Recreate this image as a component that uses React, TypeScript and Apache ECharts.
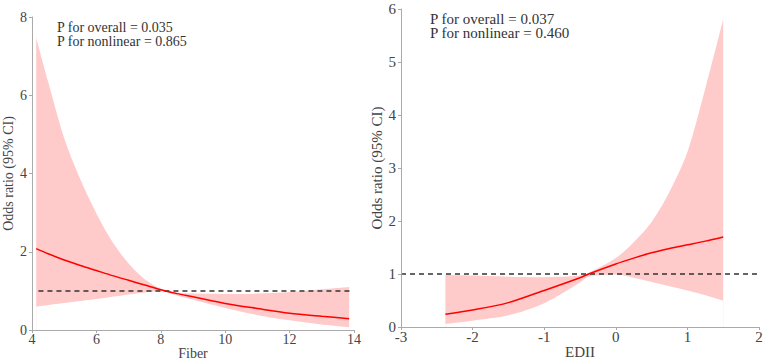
import React, { useEffect, useRef } from "react";
import * as echarts from "echarts";

// Fiber panel
const fiberX = [4.13, 4.5, 5, 5.5, 6, 6.5, 7, 7.5, 8, 8.5, 9, 10, 11, 12, 13, 13.85];
const fiberOR = [2.08, 1.95, 1.79, 1.65, 1.52, 1.39, 1.27, 1.15, 1.03, 0.93, 0.85, 0.68, 0.55, 0.43, 0.35, 0.29];
const fiberUpper = [7.47, 6.35, 4.9, 3.85, 2.98, 2.25, 1.7, 1.3, 1.06, 0.96, 0.93, 0.92, 0.93, 0.97, 1.04, 1.1];
const fiberLower = [0.6, 0.64, 0.69, 0.74, 0.79, 0.85, 0.91, 0.96, 0.99, 0.88, 0.77, 0.56, 0.38, 0.25, 0.14, 0.07];
const fiberRefX = [4.2, 13.9];

// EDII panel
const ediiX = [-2.38, -2, -1.5, -1, -0.5, -0.38, 0, 0.25, 0.5, 0.75, 1, 1.25, 1.5];
const ediiOR = [0.24, 0.32, 0.46, 0.69, 0.93, 1.0, 1.19, 1.3, 1.4, 1.48, 1.55, 1.62, 1.7];
const ediiUpper = [0.98, 0.97, 0.95, 0.94, 0.97, 1.02, 1.3, 1.6, 1.98, 2.55, 3.3, 4.5, 5.8];
const ediiLower = [0.06, 0.12, 0.22, 0.45, 0.84, 0.95, 0.99, 0.93, 0.85, 0.77, 0.69, 0.6, 0.5];
const ediiRefX = [-3, 2];

const fiberText = ["P for overall = 0.035", "P for nonlinear = 0.865"];
const ediiText = ["P for overall = 0.037", "P for nonlinear = 0.460"];

const FONT = "Liberation Serif";
const BAND = "#ffcaca";

export default function App() {
  const ref = useRef<HTMLDivElement>(null);
  useEffect(() => {
    if (!ref.current) return;
    const chart = echarts.init(ref.current, undefined, { renderer: "svg" });
    const axisLine = { show: true, onZero: false, lineStyle: { color: "#aaa", width: 1 } };
    const axisTick = { show: true, length: 3, lineStyle: { color: "#aaa" } };
    const mkLabel = (fs: number, margin: number) => ({ color: "#444", fontFamily: FONT, fontSize: fs, margin });
    const mkName = (fs: number) => ({ color: "#444", fontFamily: FONT, fontSize: fs });
    const pair = (xs: number[], ys: number[]) => xs.map((x, i) => [x, ys[i]]);
    const SMOOTH = 0.3;

    const panelSeries = (idx: number, xs: number[], lo: number[], up: number[], or: number[], refX: number[]) => [
      {
        type: "line",
        xAxisIndex: idx,
        yAxisIndex: idx,
        data: pair(xs, up),
        symbol: "none",
        smooth: SMOOTH,
        lineStyle: { width: 0, opacity: 0 },
        areaStyle: { color: BAND, opacity: 1 },
        silent: true,
        z: 1,
      },
      {
        type: "line",
        xAxisIndex: idx,
        yAxisIndex: idx,
        data: pair(xs, lo),
        symbol: "none",
        smooth: SMOOTH,
        lineStyle: { width: 0, opacity: 0 },
        areaStyle: { color: "#ffffff", opacity: 1 },
        silent: true,
        z: 2,
      },
      {
        type: "line",
        xAxisIndex: idx,
        yAxisIndex: idx,
        data: refX.map((x) => [x, 1]),
        symbol: "none",
        lineStyle: { color: "#333", width: 1.5, type: [5, 4] },
        z: 3,
      },
      {
        type: "line",
        xAxisIndex: idx,
        yAxisIndex: idx,
        data: pair(xs, or),
        symbol: "none",
        smooth: SMOOTH,
        lineStyle: { color: "#ff0000", width: 1.5 },
        z: 4,
      },
    ];

    chart.setOption({
      animation: false,
      grid: [
        { left: 32, right: 413, top: 17, bottom: 32, outerBoundsMode: "none", containLabel: false },
        { left: 401, right: 8, top: 9, bottom: 35, outerBoundsMode: "none", containLabel: false },
      ],
      xAxis: [
        {
          type: "value", gridIndex: 0, min: 4, max: 14, interval: 2, z: 10,
          name: "Fiber", nameLocation: "middle", nameGap: 16, nameMoveOverlap: false, nameTextStyle: mkName(14),
          axisLine, axisTick, axisLabel: mkLabel(14, 2), splitLine: { show: false },
        },
        {
          type: "value", gridIndex: 1, min: -3, max: 2, interval: 1, z: 10,
          name: "EDII", nameLocation: "middle", nameGap: 17, nameMoveOverlap: false, nameTextStyle: mkName(15),
          axisLine, axisTick, axisLabel: mkLabel(15, 2), splitLine: { show: false },
        },
      ],
      yAxis: [
        {
          type: "value", gridIndex: 0, min: 0, max: 8, interval: 2, z: 10,
          name: "Odds ratio (95% CI)", nameLocation: "middle", nameGap: 17, nameTextStyle: mkName(14),
          axisLine, axisTick, axisLabel: mkLabel(14, 5), splitLine: { show: false },
        },
        {
          type: "value", gridIndex: 1, min: 0, max: 6, interval: 1, z: 10,
          name: "Odds ratio (95% CI)", nameLocation: "middle", nameGap: 15, nameTextStyle: mkName(15),
          axisLine, axisTick, axisLabel: mkLabel(15, 5), splitLine: { show: false },
        },
      ],
      graphic: [
        { type: "text", left: 57, top: 20, z: 100, style: { text: fiberText.join("\n"), fill: "#333", font: `14px "${FONT}"`, lineHeight: 14 } },
        { type: "text", left: 430, top: 11, z: 100, style: { text: ediiText.join("\n"), fill: "#333", font: `15px "${FONT}"`, lineHeight: 14.5 } },
      ],
      series: [
        ...panelSeries(0, fiberX, fiberLower, fiberUpper, fiberOR, fiberRefX),
        ...panelSeries(1, ediiX, ediiLower, ediiUpper, ediiOR, ediiRefX),
      ],
    });
    return () => chart.dispose();
  }, []);
  return <div ref={ref} style={{ position: "absolute", left: 0, top: 0, width: 767, height: 362 }} />;
}
